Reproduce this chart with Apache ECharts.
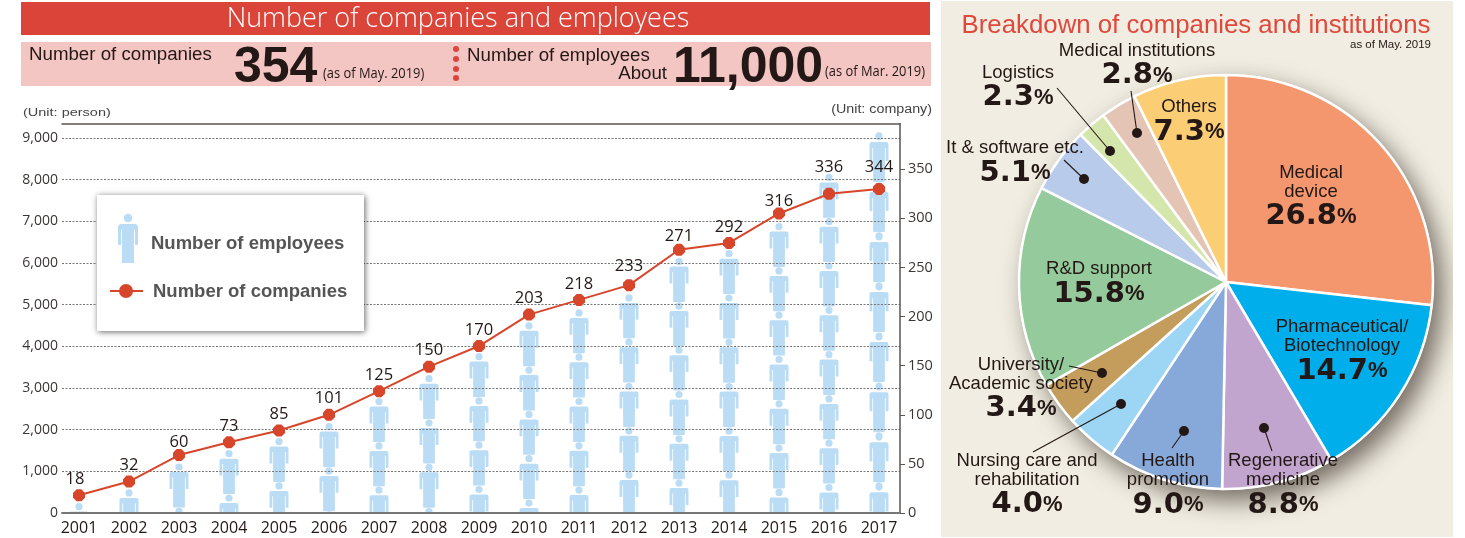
<!DOCTYPE html>
<html><head><meta charset="utf-8">
<style>html,body{margin:0;padding:0;background:#fff}#c{width:1465px;height:538px}</style>
<script src="https://cdn.jsdelivr.net/npm/echarts@6/dist/echarts.min.js"></script>
</head><body><div id="c"></div>
<script>
const years = [2001,2002,2003,2004,2005,2006,2007,2008,2009,2010,2011,2012,2013,2014,2015,2016,2017];
const employees = [240,570,1190,1510,1800,2160,2760,3310,3840,4580,4890,5250,6120,6310,6960,8140,9140];
const companiesPlotted = [18,32,59,72,84,100,124,149,170,202,217,232,268,275,305,325,330];
const companyLabels = ['18','32','60','73','85','101','125','150','170','203','218','233','271','292','316','336','344'];
const leftTicks = [0,1000,2000,3000,4000,5000,6000,7000,8000,9000];
const rightTicks = [0,50,100,150,200,250,300,350];
const pieNames = ['Medical\ndevice','Pharmaceutical/\nBiotechnology','Regenerative\nmedicine','Health\npromotion','Nursing care and\nrehabilitation','University/\nAcademic society','R&D support','It & software etc.','Logistics','Medical institutions','Others'];
const pieShares = [26.8,14.7,8.8,9.0,4.0,3.4,15.8,5.1,2.3,2.8,7.3];

const pieColors = ['#F4976F','#00AEEB','#C2A5CF','#87A9D9','#9DD6F5','#C49C5C','#95CB9C','#B9CBEA','#D5E6AC','#E3C4B5','#FBCE75'];
const pieLabelAt = [[1311,197.5],[1342,352],[1283,486],[1168,486],[1027,485.5],[1021,389.5],[1099,284.5],[1015,163.5],[1018,88],[1137,66],[1189,122.5]];
const leaders = [[1084,179,1064,160],[1110,151,1057,88],[1137,133,1131,91],[1102,373,1069,366],[1121,404,1033,452],[1184,431,1172,448],[1264,428,1272,451]];
const labelNudge = {0:[-4,0],2:[0,3.5],11:[0,-2.5],12:[0,2.5],14:[0,3.5],15:[0,-10.5],16:[0,-5.5]};

const INK = '#231815', RED = '#D7462A', SKY = '#BBDCF5';
const FONT_S = '"Liberation Sans",Arial,sans-serif', FONT_H = '"Open Sans",sans-serif';

function figurePath(x, y, k) {
  const Y = d => (y + d * k).toFixed(1), X = d => (x + d).toFixed(1);
  const r = 3.6;
  return `M${X(-r)} ${Y(3.6)}A${r} ${r*k} 0 1 1 ${X(r)} ${Y(3.6)}A${r} ${r*k} 0 1 1 ${X(-r)} ${Y(3.6)}Z`
    + `M${X(-7.5)} ${Y(8.6)}L${X(7.5)} ${Y(8.6)}Q${X(9.5)} ${Y(8.6)} ${X(9.5)} ${Y(10.6)}L${X(9.5)} ${Y(25.5)}L${X(6.7)} ${Y(25.5)}L${X(6.7)} ${Y(14)}L${X(5.9)} ${Y(14)}`
    + `L${X(5.9)} ${Y(43)}Q${X(5.9)} ${Y(44)} ${X(5)} ${Y(44)}L${X(-5)} ${Y(44)}Q${X(-5.9)} ${Y(44)} ${X(-5.9)} ${Y(43)}`
    + `L${X(-5.9)} ${Y(14)}L${X(-6.7)} ${Y(14)}L${X(-6.7)} ${Y(25.5)}L${X(-9.5)} ${Y(25.5)}L${X(-9.5)} ${Y(10.6)}Q${X(-9.5)} ${Y(8.6)} ${X(-7.5)} ${Y(8.6)}Z`;
}
function renderStack(params, api) {
  const p = api.coord([api.value(0), api.value(1)]);
  const base = api.coord([api.value(0), 0]);
  const k = api.value(0) === 2017 ? 1.13 : 1;
  const period = 44.3 * k;
  const kids = [];
  for (let y = p[1]; y < base[1]; y += period) kids.push(figurePath(p[0], y, k));
  const cs = params.coordSys;
  return {
    type: 'path',
    shape: { pathData: kids.join('') },
    style: { fill: SKY },
    clipPath: { type: 'rect', shape: { x: cs.x, y: cs.y, width: cs.width, height: cs.height } }
  };
}
function txt(text, x, y, font, fill, extra) {
  const e = extra || {};
  return { type: 'text', x, y, z: e.z == null ? 6 : e.z, scaleX: e.sx || 1,
    style: { text, font, fill, align: e.align || 'left', verticalAlign: 'middle' } };
}
const rect = (x,y,width,height,fill,z,extra) => ({type:'rect',shape:{x,y,width,height},z,style:Object.assign({fill},extra||{})});

const graphics = [
  rect(941,1,512,536,'#F1EDE2',-5),
  { type:'circle', shape:{cx:1226,cy:282,r:208}, z:0, style:{fill:'#fff',shadowBlur:24,shadowOffsetX:9,shadowOffsetY:11,shadowColor:'rgba(50,40,30,.65)'} },
  rect(1453,0,12,538,'#fff',1),
  rect(21,2,909,33,'#DB4539',1),
  rect(21,42,910,44,'#F4C6C3',1),
  txt('Number of companies and employees',458,19,'300 27px '+FONT_H,'#fff',{align:'center'}),
  txt('Number of companies',29,55,'18.7px '+FONT_S,INK),
  txt('354',234,68,'bold 50px '+FONT_S,INK),
  txt('(as of May. 2019)',323,74,'14.5px '+FONT_H,INK,{sx:0.89}),
  txt('Number of employees',467,56,'18.7px '+FONT_S,INK),
  txt('About',667,74,'18.7px '+FONT_S,INK,{align:'right'}),
  txt('11,000',673,68,'bold 50px '+FONT_S,INK),
  txt('(as of Mar. 2019)',825,72,'14.5px '+FONT_H,INK,{sx:0.89}),
  txt('(Unit: person)',23,113,'11.5px '+FONT_S,'#444',{sx:1.26}),
  txt('(Unit: company)',932,110,'12px '+FONT_S,'#444',{align:'right',sx:1.19}),
  txt('Breakdown of companies and institutions',1196,26,'25.8px '+FONT_S,'#E0483C',{align:'center'}),
  txt('as of May. 2019',1431,45,'11.5px '+FONT_S,INK,{align:'right'}),
  rect(97,195,267,136,'#fff',10,{shadowBlur:6,shadowOffsetX:1,shadowOffsetY:1,shadowColor:'rgba(0,0,0,.6)'}),
  { type:'circle', z:11, shape:{cx:128,cy:218,r:4.2}, style:{fill:SKY} },
  { type:'polygon', z:11, shape:{points:[[120,224],[136,224],[138,226],[138,245],[135,245],[135,230],[134,230],[134,263],[122,263],[122,230],[121,230],[121,245],[118,245],[118,226]]}, style:{fill:SKY} },
  txt('Number of employees',151,244,'bold 18.5px '+FONT_S,'#555',{z:11}),
  { type:'line', z:11, shape:{x1:110,y1:291,x2:143,y2:291}, style:{stroke:RED,lineWidth:2} },
  { type:'circle', z:11, shape:{cx:126,cy:291,r:7}, style:{fill:RED} },
  txt('Number of companies',153,292,'bold 18.5px '+FONT_S,'#555',{z:11})
];
[49,59,69,78].forEach(y => graphics.push({type:'circle',z:2,shape:{cx:456,cy:y,r:3},style:{fill:'#DB4539'}}));
leaders.forEach(l => {
  graphics.push({type:'line',z:30,shape:{x1:l[0],y1:l[1],x2:l[2],y2:l[3]},style:{stroke:INK,lineWidth:1.1}});
  graphics.push({type:'circle',z:30,shape:{cx:l[0],cy:l[1],r:5},style:{fill:INK}});
});

const octagon = 'path://M30 0L70 0L100 30L100 70L70 100L30 100L0 70L0 30Z';
const xScale = { type:'value', min:2000.66, max:2017.42 };
const chart = echarts.init(document.getElementById('c'), null, { renderer:'canvas' });
chart.setOption({
  animation:false,
  backgroundColor:'#fff',
  graphic:{ elements:graphics },
  grid:{ left:62, right:565, top:123.5, bottom:25 },
  xAxis:[
    Object.assign({}, xScale, { position:'bottom', splitLine:{show:false}, axisTick:{show:false},
      axisLine:{onZero:false,lineStyle:{color:'#777',width:2}},
      axisLabel:{customValues:years,formatter:v=>String(v),color:INK,fontFamily:'"Open Sans"',fontSize:16,margin:7,hideOverlap:false} }),
    Object.assign({}, xScale, { position:'top', splitLine:{show:false}, axisTick:{show:false}, axisLabel:{show:false},
      axisLine:{show:true,onZero:false,lineStyle:{color:'#5a5552',width:1.5}} })
  ],
  yAxis:[
    { type:'value', min:0, max:9348, position:'left', axisLine:{show:false},
      axisTick:{show:false,customValues:leftTicks},
      splitLine:{show:true,lineStyle:{type:[2,1.5],color:'#777',width:1}},
      axisLabel:{customValues:leftTicks,formatter:v=>v.toLocaleString('en-US'),color:'#3a3634',fontFamily:'"Open Sans"',fontSize:14,margin:4} },
    { type:'value', min:0, max:396.6, position:'right', splitLine:{show:false},
      axisLine:{show:true,onZero:false,lineStyle:{color:'#5a5552',width:1.5}},
      axisTick:{show:true,length:5,customValues:rightTicks,lineStyle:{color:'#5a5552'}},
      axisLabel:{customValues:rightTicks,color:'#3a3634',fontFamily:'"Open Sans"',fontSize:14.5,margin:8} }
  ],
  series:[
    { type:'custom', name:'Number of employees', z:-1, xAxisIndex:0, yAxisIndex:0, renderItem:renderStack,
      encode:{x:0,y:1}, data:years.map((y,i)=>[y,employees[i]]), silent:true },
    { type:'line', name:'Number of companies', z:5, xAxisIndex:0, yAxisIndex:1,
      data:years.map((y,i)=>({ value:[y,companiesPlotted[i]], label:{ offset:labelNudge[i]||[0,0] } })),
      symbol:octagon, symbolSize:12, showAllSymbol:true,
      lineStyle:{color:RED,width:2}, itemStyle:{color:RED},
      label:{ show:true, position:'top', distance:1.5, formatter:p=>companyLabels[p.dataIndex], color:INK, fontFamily:'"Open Sans"', fontSize:16.5 } },
    { type:'pie', name:'Breakdown', center:[1226,282], radius:[0,207], startAngle:90, clockwise:true, z:3, silent:true,
      avoidLabelOverlap:false,
      itemStyle:{borderColor:'#fff',borderWidth:2.5},
      data:pieNames.map((n,i)=>({ name:n, value:pieShares[i], itemStyle:{color:pieColors[i]} })),
      label:{ show:true, position:'inside', color:INK, fontFamily:FONT_S, fontSize:18.5, lineHeight:19, align:'center',
        formatter:p=>p.name.split('\n').map(s=>`{n|${s}}`).join('\n')+`\n{v|${p.value.toFixed(1)}}{u|%}`,
        rich:{ n:{fontFamily:FONT_S,fontSize:18.5,lineHeight:19,color:INK,align:'center'},
               v:{fontFamily:'"DejaVu Sans"',fontWeight:'bold',fontSize:29,lineHeight:31,color:INK},
               u:{fontFamily:FONT_S,fontWeight:'bold',fontSize:22,lineHeight:31,color:INK} } },
      labelLine:{show:false},
      labelLayout:p=>({ x:pieLabelAt[p.dataIndex][0], y:pieLabelAt[p.dataIndex][1], align:'center', verticalAlign:'middle' }) }
  ]
});
</script></body></html>
